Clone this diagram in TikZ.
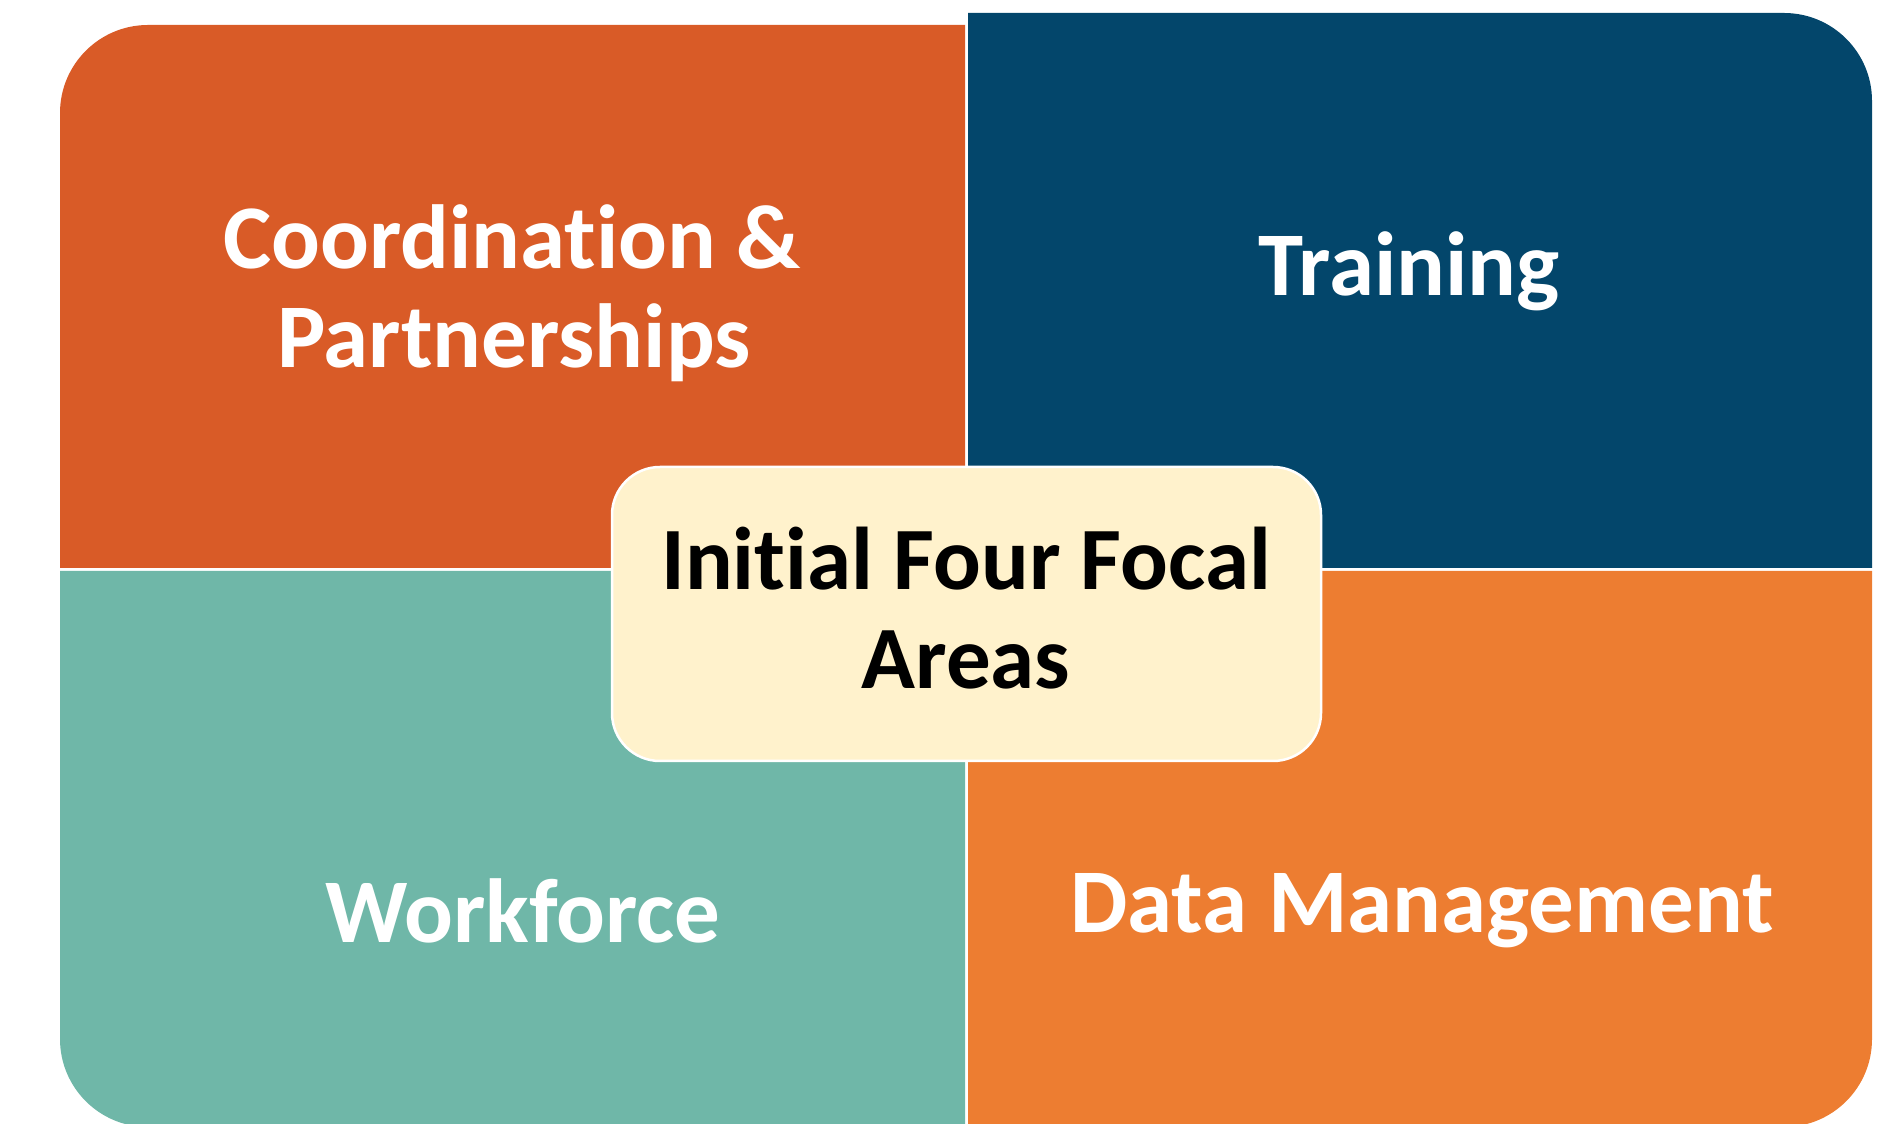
\documentclass[tikz,border=0pt]{standalone}
\usepackage{fontspec}
\setmainfont{Carlito}[Ligatures={NoCommon}]
\definecolor{tlc}{RGB}{217,91,39}
\definecolor{trc}{RGB}{3,70,107}
\definecolor{blc}{RGB}{111,183,168}
\definecolor{brc}{RGB}{237,125,49}
\definecolor{cream}{RGB}{255,242,204}
\tikzset{
  quadlabel/.style={text=white, font=\bfseries\fontsize{91}{100}\selectfont, anchor=base, inner sep=0pt},
  centerlabel/.style={text=black, font=\bfseries\fontsize{89}{99}\selectfont, anchor=base, inner sep=0pt},
  centerbox/.style={draw=white, line width=2.5pt, fill=cream, rounded corners=48pt, minimum width=709pt, minimum height=294pt, inner sep=0pt}
}
\begin{document}
\begin{tikzpicture}[x=1pt,y=1pt]
\useasboundingbox (0,0) rectangle (1895,1124);
\clip (0,0) rectangle (1895,1124);
% quadrants
\fill[tlc] (965,556) -- (60,556) -- (60,1011) arc[start angle=180,end angle=90,radius=88] -- (965,1099) -- cycle;
\fill[trc] (968,556) -- (968,1111) -- (1784,1111) arc[start angle=90,end angle=0,radius=88] -- (1872,556) -- cycle;
\fill[blc] (965,553) -- (60,553) -- (60,85) arc[start angle=180,end angle=270,radius=88] -- (965,-3) -- cycle;
\fill[brc] (968,553) -- (1872,553) -- (1872,85) arc[start angle=0,end angle=-90,radius=88] -- (968,-3) -- cycle;
% labels
\node[quadlabel] (coord1) at (512,855) {Coordination \&};
\node[quadlabel] (coord2) at (514,756) {Partnerships};
\node[quadlabel] (train) at (1409,828) {Training};
\node[quadlabel] (work) at (523,181) {Workforce};
\node[quadlabel] (data) at (1422,191) {Data Management};
% center
\node[centerbox] (center) at (966.5,510) {};
\node[centerlabel] (ctr1) at (966,534) {Initial Four Focal};
\node[centerlabel] (ctr2) at (966,435) {Areas};
\end{tikzpicture}
\end{document}
